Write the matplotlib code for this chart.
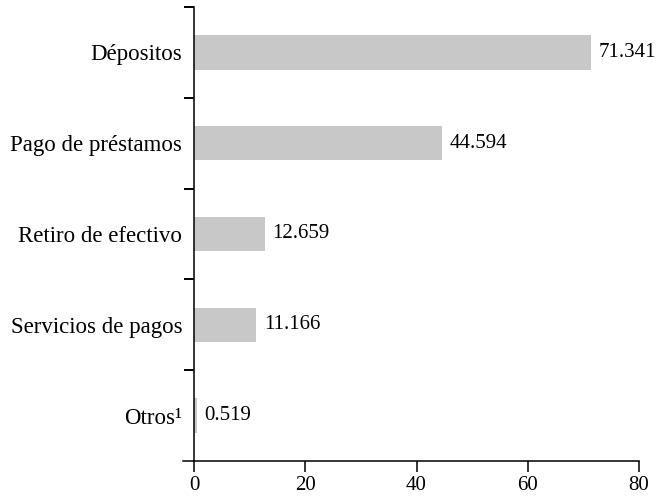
import matplotlib.pyplot as plt
from matplotlib.ticker import FixedLocator

categories = ["Dépositos", "Pago de préstamos", "Retiro de efectivo", "Servicios de pagos", "Otros¹"]
values = [71.341, 44.594, 12.659, 11.166, 0.519]
value_labels = ["71.341", "44.594", "12.659", "11.166", "0.519"]
x_ticks = [0, 20, 40, 60, 80]

plt.rcParams['font.family'] = ['Liberation Serif', 'DejaVu Serif']
FS_CAT = 16.5
FS_NUM = 15

fig = plt.figure(figsize=(6.59, 4.96), dpi=100)
# axes box in pixels: left 183, right 639, top 7, bottom 461
ax = fig.add_axes([183 / 659, 1 - 461 / 496, (639 - 183) / 659, (461 - 7) / 496])

pos = list(range(len(categories)))[::-1]
ax.barh(pos, values, height=0.38, color='#c8c8c8', zorder=1)
for p, v, lab in zip(pos, values, value_labels):
    ax.annotate(lab, (v, p), xytext=(5.5, 0), textcoords='offset points',
                va='center', ha='left', fontsize=FS_NUM)

ax.set_xlim(-2, 80)
ax.set_ylim(-0.5, 4.5)
ax.spines['left'].set_position(('data', 0))
ax.spines['top'].set_visible(False)
ax.spines['right'].set_visible(False)
for s in ['left', 'bottom']:
    ax.spines[s].set_linewidth(1.1)

ax.set_xticks(x_ticks)
ax.set_xticklabels([str(t) for t in x_ticks], fontsize=FS_NUM)
ax.tick_params(axis='x', direction='out', length=8, width=1.1, pad=3)

ax.set_yticks(pos)
ax.set_yticklabels(categories, fontsize=FS_CAT)
ax.tick_params(axis='y', which='major', length=0, pad=8.5)
ax.yaxis.set_minor_locator(FixedLocator([0.5, 1.5, 2.5, 3.5, 4.5]))
ax.tick_params(axis='y', which='minor', direction='out', length=7.2, width=1.4)

fig.savefig("out.png", dpi=100)
